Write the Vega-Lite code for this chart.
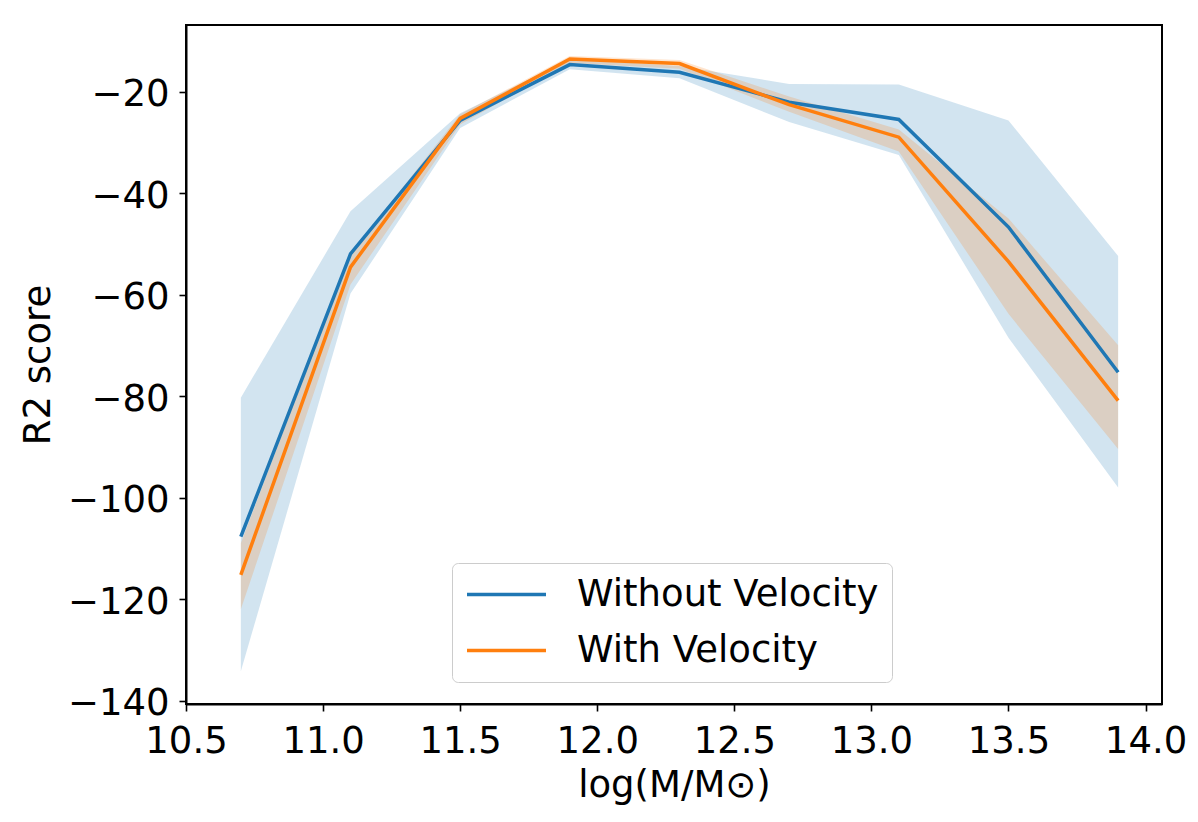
{
  "$schema": "https://vega.github.io/schema/vega-lite/v6.json",
  "autosize": {"type": "none"},
  "width": 976,
  "height": 679,
  "padding": {"left": 186, "top": 25, "right": 36, "bottom": 118},
  "background": "white",
  "config": {
    "font": "DejaVu Sans",
    "view": {"stroke": "black", "strokeWidth": 2},
    "axis": {
      "grid": false,
      "domainColor": "black",
      "domainWidth": 2,
      "tickColor": "black",
      "tickWidth": 1.6,
      "tickSize": 7,
      "labelFont": "DejaVu Sans",
      "labelFontSize": 37,
      "labelColor": "black",
      "titleFont": "DejaVu Sans",
      "titleFontSize": 37,
      "titleFontWeight": "normal",
      "titleColor": "black"
    },
    "legend": {
      "labelFont": "DejaVu Sans",
      "labelFontSize": 37,
      "labelColor": "black"
    }
  },
  "data": {
    "values": [
      {"mass": 10.7, "series": "Without Velocity", "mean": -107.7, "lo": -134.2, "hi": -80.3},
      {"mass": 11.1, "series": "Without Velocity", "mean": -52.0, "lo": -59.8, "hi": -43.6},
      {"mass": 11.5, "series": "Without Velocity", "mean": -25.7, "lo": -27.2, "hi": -24.3},
      {"mass": 11.9, "series": "Without Velocity", "mean": -14.7, "lo": -15.6, "hi": -13.6},
      {"mass": 12.3, "series": "Without Velocity", "mean": -16.2, "lo": -17.4, "hi": -15.0},
      {"mass": 12.7, "series": "Without Velocity", "mean": -22.1, "lo": -26.0, "hi": -18.5},
      {"mass": 13.1, "series": "Without Velocity", "mean": -25.5, "lo": -32.5, "hi": -18.6},
      {"mass": 13.5, "series": "Without Velocity", "mean": -46.7, "lo": -68.5, "hi": -25.7},
      {"mass": 13.9, "series": "Without Velocity", "mean": -75.3, "lo": -98.0, "hi": -52.4},
      {"mass": 10.7, "series": "With Velocity", "mean": -115.2, "lo": -122.0, "hi": -109.0},
      {"mass": 11.1, "series": "With Velocity", "mean": -54.6, "lo": -58.0, "hi": -52.0},
      {"mass": 11.5, "series": "With Velocity", "mean": -25.3, "lo": -26.5, "hi": -24.5},
      {"mass": 11.9, "series": "With Velocity", "mean": -13.6, "lo": -14.4, "hi": -13.0},
      {"mass": 12.3, "series": "With Velocity", "mean": -14.5, "lo": -15.5, "hi": -13.8},
      {"mass": 12.7, "series": "With Velocity", "mean": -22.6, "lo": -24.0, "hi": -21.0},
      {"mass": 13.1, "series": "With Velocity", "mean": -29.0, "lo": -31.8, "hi": -27.5},
      {"mass": 13.5, "series": "With Velocity", "mean": -53.5, "lo": -63.8, "hi": -45.0},
      {"mass": 13.9, "series": "With Velocity", "mean": -80.9, "lo": -90.4, "hi": -70.0}
    ]
  },
  "encoding": {
    "x": {
      "field": "mass",
      "type": "quantitative",
      "scale": {"domain": [10.5, 14.06], "nice": false, "zero": false},
      "axis": {
        "title": "log(M/M⊙)",
        "values": [10.5, 11.0, 11.5, 12.0, 12.5, 13.0, 13.5, 14.0],
        "format": ".1f",
        "labelPadding": 12,
        "titlePadding": 8,
        "labelFlush": false,
        "labelOverlap": false
      }
    },
    "color": {
      "field": "series",
      "type": "nominal",
      "sort": ["Without Velocity", "With Velocity"],
      "scale": {"domain": ["Without Velocity", "With Velocity"], "range": ["#1f77b4", "#ff7f0e"]},
      "legend": {
        "title": null,
        "orient": "none",
        "legendX": 266,
        "legendY": 538,
        "direction": "vertical",
        "symbolType": "stroke",
        "symbolSize": 6241,
        "symbolStrokeWidth": 3.5,
        "symbolOpacity": 1,
        "labelOffset": 29,
        "labelLimit": 0,
        "clipHeight": 37,
        "rowPadding": 18,
        "padding": 13,
        "fillColor": "white",
        "strokeColor": "#cccccc",
        "cornerRadius": 6
      }
    }
  },
  "layer": [
    {
      "mark": {"type": "area", "fillOpacity": 0.2},
      "encoding": {
        "y": {
          "field": "lo",
          "type": "quantitative",
          "scale": {"domain": [-140.65, -6.9], "nice": false, "zero": false},
          "axis": {
            "title": "R2 score",
            "values": [-140, -120, -100, -80, -60, -40, -20],
            "labelPadding": 10,
            "labelOffset": 3,
            "titlePadding": 10,
            "labelOverlap": false
          }
        },
        "y2": {"field": "hi"},
        "order": {"field": "series", "sort": "descending"}
      }
    },
    {
      "mark": {"type": "line", "strokeWidth": 3.5},
      "encoding": {
        "y": {"field": "mean", "type": "quantitative"}
      }
    }
  ]
}
